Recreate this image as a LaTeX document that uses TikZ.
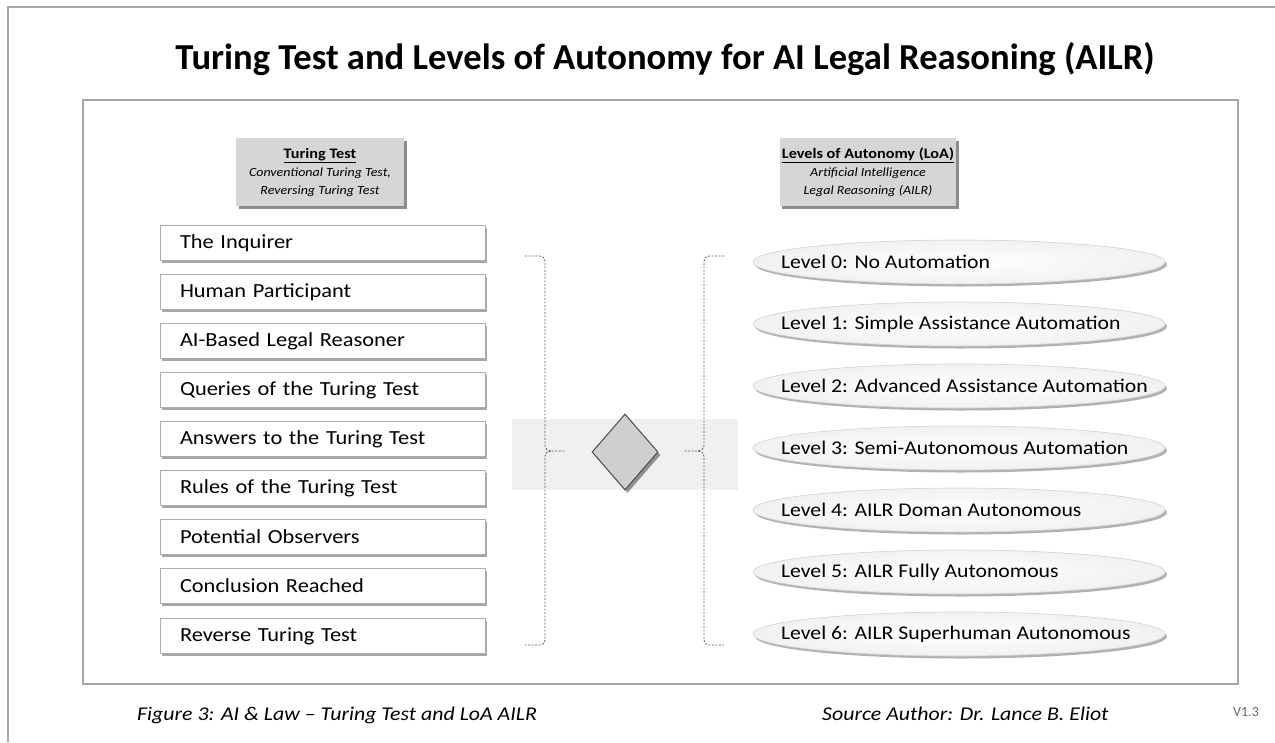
\documentclass[tikz,border=0pt]{standalone}
\usepackage{fontspec}
\setmainfont{Carlito}
\newfontfamily\wide{Carlito}[FakeStretch=1.12,Ligatures=TeX]
\usetikzlibrary{shapes.geometric,shadows}
\newcommand\lvltxt[1]{\makebox[0pt][l]{\hspace*{-178pt}#1}}
\begin{document}
\begin{tikzpicture}[x=1pt,y=-1pt,
  frame/.style={draw=gray!70,line width=1.2pt},
  hdrbox/.style={fill=gray!32,minimum width=168pt,minimum height=68pt,align=center,inner sep=2pt,
     font=\wide\fontsize{12.5}{18}\selectfont,
     drop shadow={shadow xshift=2.5pt,shadow yshift=-3pt,fill=black,opacity=0.45}},
  lbox/.style={draw=gray!65,line width=0.8pt,fill=white,text width=285pt,inner xsep=20pt,minimum height=35pt,align=left,
     font=\wide\fontsize{20}{22}\selectfont,
     drop shadow={shadow xshift=2pt,shadow yshift=-2.5pt,fill=black,opacity=0.35}},
  lvbox/.style={ellipse,draw=gray!35,line width=0.6pt,inner color=white,outer color=gray!11,minimum width=412pt,minimum height=44pt,inner sep=0pt,
     font=\wide\fontsize{19.4}{22}\selectfont,
     drop shadow={shadow xshift=2pt,shadow yshift=-2.5pt,fill=black,opacity=0.3}},
  brace/.style={draw=gray!75!black,line width=0.8pt,dash pattern=on 2pt off 1.5pt},
  gem/.style={diamond,draw=gray!60!black,line width=1pt,fill=gray!38,minimum width=66pt,minimum height=76pt,inner sep=0pt,
     drop shadow={shadow xshift=2.5pt,shadow yshift=-3pt,fill=black,opacity=0.4}},
  foot/.style={anchor=base west,inner sep=0pt,font=\wide\fontsize{19.5}{22}\selectfont\itshape},
]
\useasboundingbox (0,0) rectangle (1275,742);
\fill[white] (0,0) rectangle (1275,742);
% outer frame (only top and left visible)
\draw[draw=gray!70,line width=1.2pt] (8,742) -- (8,7) -- (1275,7);
% title
\node[anchor=base,font=\fontsize{36.6}{40}\selectfont\bfseries] (title) at (665,69) {Turing Test and Levels of Autonomy for AI Legal Reasoning (AILR)};
% inner frame
\draw[frame] (83,100) rectangle (1238,684);
% headers
\node[hdrbox] (hl) at (320,172) {{\fontsize{14.5}{18}\selectfont\bfseries\underline{Turing Test}}\\
  {\itshape Conventional Turing Test,}\\{\itshape Reversing Turing Test}};
\node[hdrbox] (hr) at (868,172) {{\fontsize{14.5}{18}\selectfont\bfseries\underline{Levels of Autonomy (LoA)}}\\
  {\itshape Artificial Intelligence}\\{\itshape Legal Reasoning (AILR)}};
% left boxes
\node[lbox] (t1) at (322.5,243) {The Inquirer};
\node[lbox] (t2) at (322.5,292) {Human Participant};
\node[lbox] (t3) at (322.5,341) {AI-Based Legal Reasoner};
\node[lbox] (t4) at (322.5,390) {Queries of the Turing Test};
\node[lbox] (t5) at (322.5,439) {Answers to the Turing Test};
\node[lbox] (t6) at (322.5,488) {Rules of the Turing Test};
\node[lbox] (t7) at (322.5,537) {Potential Observers};
\node[lbox] (t8) at (322.5,586) {Conclusion Reached};
\node[lbox] (t9) at (322.5,636) {Reverse Turing Test};
% middle band
\fill[gray!12] (512,419) rectangle (738,490);
% braces
\draw[brace] (525,256) -- (540,256) to[out=0,in=90] (545,261) -- (545,446) to[out=-90,in=180] (551,451) -- (565,451);
\draw[brace] (551,451) to[out=180,in=90] (545,456) -- (545,640) to[out=-90,in=0] (540,645) -- (525,645);
\draw[brace] (724,256) -- (709,256) to[out=180,in=90] (704,261) -- (704,446) to[out=-90,in=0] (698,451) -- (684,451);
\draw[brace] (698,451) to[out=0,in=90] (704,456) -- (704,640) to[out=-90,in=180] (709,645) -- (724,645);
% diamond
\node[gem] (dia) at (625,452) {};
% levels
\node[lvbox] (l0) at (959,262) {\lvltxt{Level 0: No Automation}};
\node[lvbox] (l1) at (959,324) {\lvltxt{Level 1: Simple Assistance Automation}};
\node[lvbox] (l2) at (959,386) {\lvltxt{Level 2: Advanced Assistance Automation}};
\node[lvbox] (l3) at (959,448) {\lvltxt{Level 3: Semi-Autonomous Automation}};
\node[lvbox] (l4) at (959,510) {\lvltxt{Level 4: AILR Doman Autonomous}};
\node[lvbox] (l5) at (959,572) {\lvltxt{Level 5: AILR Fully Autonomous}};
\node[lvbox] (l6) at (959,634) {\lvltxt{Level 6: AILR Superhuman Autonomous}};
% footer
\node[foot] (fig) at (137,720) {Figure 3: AI \& Law – Turing Test and LoA AILR};
\node[foot] (src) at (822,720) {Source Author: Dr. Lance B. Eliot};
\node[anchor=base west,inner sep=0pt,font=\fontsize{14}{16}\selectfont,text=gray!80!black] (ver) at (1233,716) {V1.3};
\end{tikzpicture}
\end{document}
